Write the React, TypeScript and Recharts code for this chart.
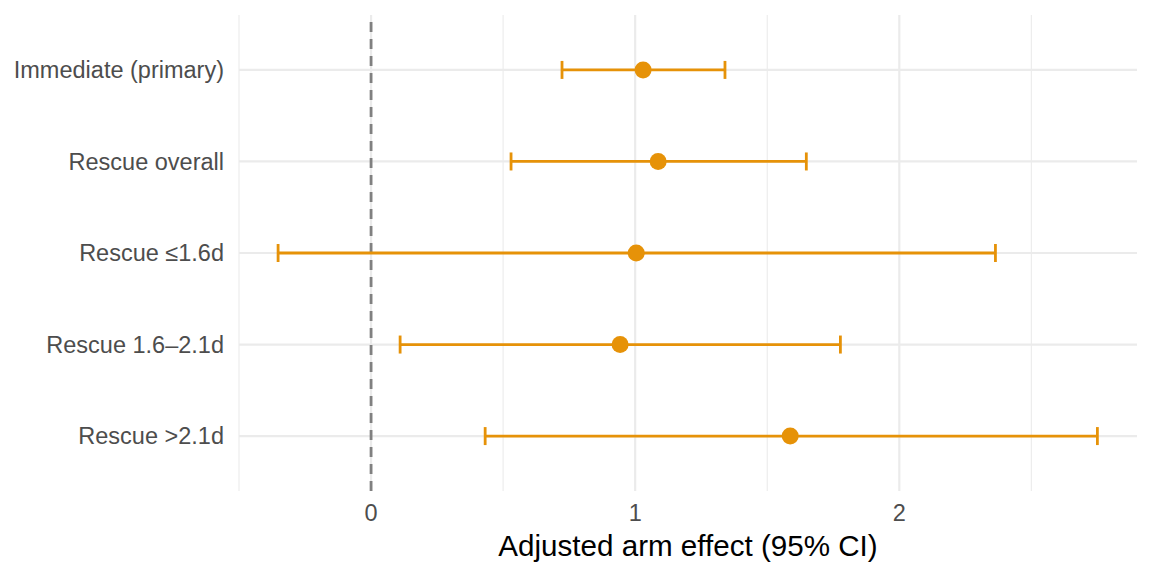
import React from 'react'
import {
  ScatterChart, Scatter, ErrorBar, XAxis, YAxis, ReferenceLine,
} from 'recharts'

const FONT = '"Liberation Sans", Arial, Helvetica, sans-serif'
const ORANGE = '#E69208'
const GRID = '#EBEBEB'

// one row per comparison, top to bottom
const labels = ['Immediate (primary)', 'Rescue overall', 'Rescue ≤1.6d', 'Rescue 1.6–2.1d', 'Rescue >2.1d']
const estimate = [1.03, 1.087, 1.004, 0.943, 1.587]
const lower = [0.723, 0.53, -0.352, 0.11, 0.432]
const upper = [1.34, 1.648, 2.364, 1.777, 2.75]

const xTicks = [0, 1, 2]
const xMinor = [-0.5, 0.5, 1.5, 2.5]

const rows = labels.map((label, i) => ({
  row: i + 1,
  label,
  est: estimate[i],
  err: [estimate[i] - lower[i], upper[i] - estimate[i]],
}))

const Dot = (p: any) => <circle cx={p.cx} cy={p.cy} r={8.5} fill={ORANGE} />

export default function App() {
  return (
    <div style={{ position: 'absolute', left: 0, top: 0, background: '#fff' }}>
      <ScatterChart width={1152} height={576} margin={{ top: 15, right: 15, left: 0, bottom: 0 }}
        style={{ fontFamily: FONT }}>
        {xMinor.map(v => (
          <ReferenceLine key={'m' + v} x={v} stroke={GRID} strokeWidth={1.1} />
        ))}
        {xTicks.map(v => (
          <ReferenceLine key={'x' + v} x={v} stroke={GRID} strokeWidth={2.2} />
        ))}
        {rows.map(r => (
          <ReferenceLine key={'y' + r.row} y={r.row} stroke={GRID} strokeWidth={2.2} />
        ))}
        <XAxis type="number" dataKey="est" domain={[-0.5, 2.9]} ticks={xTicks} allowDataOverflow
          axisLine={false} tickLine={false} tickSize={0} tickMargin={13} height={85}
          tick={{ fontSize: 23.5, fill: '#4D4D4D', fontFamily: FONT }}
          label={{ value: 'Adjusted arm effect (95% CI)', position: 'insideBottom', offset: 20,
            style: { fontSize: 29.6, fill: '#000', fontFamily: FONT } }} />
        <YAxis type="number" dataKey="row" domain={[0.4, 5.6]} ticks={rows.map(r => r.row)} reversed
          axisLine={false} tickLine={false} tickSize={0} tickMargin={15} width={239}
          tickFormatter={(v: number) => labels[v - 1]}
          tick={{ fontSize: 23.5, fill: '#4D4D4D', fontFamily: FONT }} />
        <ReferenceLine x={0} stroke="#808080" strokeWidth={2.8} strokeDasharray="10 7" />
        <Scatter data={rows} shape={Dot} isAnimationActive={false}>
          <ErrorBar dataKey="err" direction="x" width={9} stroke={ORANGE} strokeWidth={2.8} />
        </Scatter>
      </ScatterChart>
    </div>
  )
}
